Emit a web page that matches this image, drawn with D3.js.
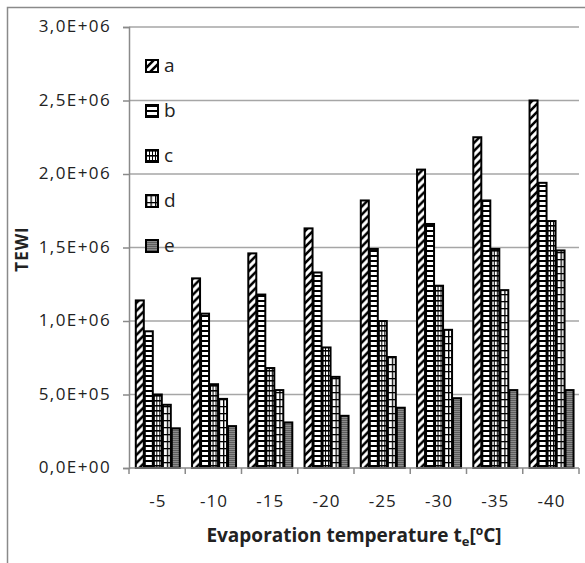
<!DOCTYPE html>
<html>
<head>
<meta charset="utf-8">
<script src="https://cdn.jsdelivr.net/npm/d3@7"></script>
<style>
  body { margin: 0; background: #fff; }
  svg text { font-family: "Open Sans", sans-serif; fill: #222; }
</style>
</head>
<body>
<div id="chart"></div>
<script>
// evaporation temperatures (categories)
var categories = ["-5", "-10", "-15", "-20", "-25", "-30", "-35", "-40"];
var seriesNames = ["a", "b", "c", "d", "e"];
// TEWI values
var aVals = [1.14e6, 1.29e6, 1.46e6, 1.63e6, 1.82e6, 2.03e6, 2.25e6, 2.50e6];
var bVals = [0.93e6, 1.05e6, 1.18e6, 1.33e6, 1.49e6, 1.66e6, 1.82e6, 1.94e6];
var cVals = [0.50e6, 0.57e6, 0.68e6, 0.82e6, 1.00e6, 1.24e6, 1.49e6, 1.68e6];
var dVals = [0.43e6, 0.47e6, 0.53e6, 0.62e6, 0.755e6, 0.94e6, 1.21e6, 1.48e6];
var eVals = [0.27e6, 0.285e6, 0.31e6, 0.355e6, 0.41e6, 0.475e6, 0.53e6, 0.53e6];
var yTicks = [0, 5e5, 1e6, 1.5e6, 2e6, 2.5e6, 3e6];
var yTickLabels = ["0,0E+00", "5,0E+05", "1,0E+06", "1,5E+06", "2,0E+06", "2,5E+06", "3,0E+06"];

var allVals = [aVals, bVals, cVals, dVals, eVals];

var width = 585, height = 563;
var plotL = 129, plotR = 579, plotT = 27, plotB = 468;

var svg = d3.select("#chart").append("svg")
  .attr("width", width)
  .attr("height", height);

// fill patterns for the black & white bars
var defs = svg.append("defs");
function pat(id, w, h, bg) {
  var p = defs.append("pattern").attr("id", id)
    .attr("patternUnits", "userSpaceOnUse")
    .attr("width", w).attr("height", h);
  p.append("rect").attr("width", w).attr("height", h).attr("fill", bg);
  return p;
}
var pa = pat("pa", 8, 8, "#fff");
pa.append("path").attr("d", "M-1,9 L9,-1 M-3,3 L3,-3 M5,11 L11,5")
  .attr("stroke", "#000").attr("stroke-width", 2.6);
var pb = pat("pb", 6, 5, "#fff");
pb.append("rect").attr("y", 0).attr("width", 6).attr("height", 2).attr("fill", "#000");
var pc = pat("pc", 3, 5, "#fff");
pc.append("rect").attr("y", 0).attr("width", 3).attr("height", 1.6).attr("fill", "#000");
pc.append("rect").attr("x", 0).attr("width", 1).attr("height", 5).attr("fill", "#000");
var pd = pat("pd", 4.5, 7, "#fff");
pd.append("rect").attr("width", 4.5).attr("height", 1.3).attr("fill", "#000");
pd.append("rect").attr("width", 1.3).attr("height", 7).attr("fill", "#000");
var pe = pat("pe", 4, 2, "#8c8c8c");
pe.append("rect").attr("width", 4).attr("height", 1).attr("fill", "#5e5e5e");
var fills = ["url(#pa)", "url(#pb)", "url(#pc)", "url(#pd)", "url(#pe)"];

// outer frame (only left and top edges are visible in the crop)
svg.append("path")
  .attr("d", "M7.5," + height + " L7.5,7.5 L" + width + ",7.5")
  .attr("fill", "none").attr("stroke", "#8a8a8a").attr("stroke-width", 1.5);

var x0 = d3.scaleBand().domain(categories).range([plotL, plotR])
  .paddingInner(0.2).paddingOuter(0.1).align(0.56);
var x1 = d3.scaleBand().domain(seriesNames).range([0, x0.bandwidth()]);
var y = d3.scaleLinear().domain([0, 3e6]).range([plotB, plotT]);

// gridlines
svg.append("g").selectAll("line").data(yTicks.slice(1)).join("line")
  .attr("x1", plotL).attr("x2", plotR)
  .attr("y1", function(d) { return y(d); }).attr("y2", function(d) { return y(d); })
  .attr("stroke", "#a6a6a6").attr("stroke-width", 1.5);

// y axis
var yAxis = svg.append("g").attr("transform", "translate(" + plotL + ",0)")
  .call(d3.axisLeft(y).tickValues(yTicks)
    .tickFormat(function(d, i) { return yTickLabels[i]; })
    .tickSize(6).tickPadding(12));
yAxis.select(".domain").attr("stroke", "#8a8a8a").attr("stroke-width", 1.5);
yAxis.selectAll(".tick line").attr("stroke", "#8a8a8a").attr("stroke-width", 1.5);
yAxis.selectAll("text").attr("font-size", 17).attr("font-family", "Open Sans")
  .attr("letter-spacing", 1.4).attr("fill", "#222").attr("dy", "0.28em");

// bars
var groups = svg.append("g").selectAll("g").data(categories).join("g")
  .attr("transform", function(d) { return "translate(" + x0(d) + ",0)"; });
groups.selectAll("rect")
  .data(function(d, ci) {
    return seriesNames.map(function(s, si) { return { s: s, si: si, v: allVals[si][ci] }; });
  })
  .join("rect")
  .attr("x", function(d) { return x1(d.s) + 0.5; })
  .attr("width", x1.bandwidth() - 1)
  .attr("y", function(d) { return y(d.v); })
  .attr("height", function(d) { return plotB - y(d.v); })
  .attr("fill", function(d) { return fills[d.si]; })
  .attr("stroke", "#000").attr("stroke-width", 2);

// x axis
var xg = svg.append("g").attr("transform", "translate(0," + plotB + ")");
xg.append("line").attr("x1", plotL).attr("x2", plotR)
  .attr("stroke", "#8a8a8a").attr("stroke-width", 1.5);
var step = (plotR - plotL) / categories.length;
xg.selectAll("line.tk").data(d3.range(categories.length + 1)).join("line")
  .attr("class", "tk")
  .attr("x1", function(i) { return plotL + i * step; })
  .attr("x2", function(i) { return plotL + i * step; })
  .attr("y1", 0).attr("y2", 6)
  .attr("stroke", "#8a8a8a").attr("stroke-width", 1.5);
xg.selectAll("text").data(categories).join("text")
  .attr("x", function(d) { return x0(d) + x0.bandwidth() / 2; })
  .attr("y", 39)
  .attr("text-anchor", "middle")
  .attr("font-size", 17).attr("letter-spacing", 1)
  .text(function(d) { return d; });

// axis titles
svg.append("text")
  .attr("transform", "translate(28,249) rotate(-90)")
  .attr("text-anchor", "middle")
  .attr("font-size", 17).attr("font-weight", "bold").attr("letter-spacing", 1)
  .text("TEWI");
var xt = svg.append("text")
  .attr("x", 354).attr("y", 542)
  .attr("text-anchor", "middle")
  .attr("font-size", 19).attr("font-weight", "bold");
xt.append("tspan").text("Evaporation temperature t");
xt.append("tspan").attr("font-size", 13).attr("dy", 4).text("e");
xt.append("tspan").attr("dy", -4).text("[");
xt.append("tspan").attr("font-size", 12).attr("dy", -7).text("o");
xt.append("tspan").attr("dy", 7).text("C]");

// legend
var legend = svg.append("g").selectAll("g").data(seriesNames).join("g")
  .attr("transform", function(d, i) { return "translate(146," + (60 + i * 45) + ")"; });
legend.append("rect")
  .attr("width", 12).attr("height", 12)
  .attr("fill", function(d, i) { return fills[i]; })
  .attr("stroke", "#000").attr("stroke-width", 2);
legend.append("text")
  .attr("x", 18).attr("y", 12)
  .attr("font-size", 19)
  .text(function(d) { return d; });
</script>
</body>
</html>
